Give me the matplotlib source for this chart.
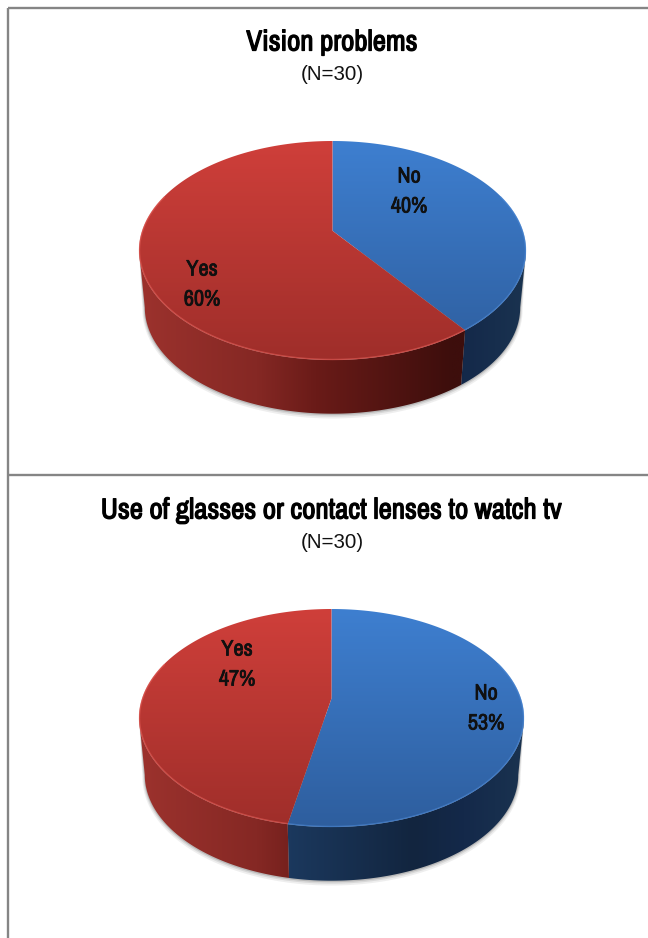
import numpy as np
import matplotlib
matplotlib.use("Agg")
import matplotlib.pyplot as plt
import matplotlib.patheffects as pe
from matplotlib.colors import LinearSegmentedColormap as LSC
from matplotlib.patches import Polygon

titles = ["Vision problems", "Use of glasses or contact lenses to watch tv"]
subtitle = "(N=30)"
categories = ["No", "Yes"]
pie1_values = [40, 60]
pie2_values = [53, 47]

NARROW = ["Archivo Narrow", "Roboto Condensed", "Liberation Sans", "DejaVu Sans"]
W, H = 648, 938
fig = plt.figure(figsize=(W / 100, H / 100), dpi=100, facecolor="white")
ax = fig.add_axes([0, 0, 1, 1])
ax.set_xlim(0, W)
ax.set_ylim(H, 0)
ax.axis("off")

STYLE = {
    "No": dict(top=["#3e7fd0", "#2e5e9e"],
               side=[(0, "#1c3a60"), (0.55, "#12253f"), (0.75, "#14294a"), (1, "#1a3350")]),
    "Yes": dict(top=["#cf3f3a", "#9f2e2a"],
                side=[(0, "#9c322d"), (0.3, "#852824"), (0.45, "#6a1b18"), (0.8, "#3d0e0c"), (1, "#3d0e0c")]),
}
PERSP = 1.22


def warp(theta):
    """Perspective of the disk: screen angle (deg clockwise from top) of a true angle."""
    phi = np.radians(np.asarray(theta, float) - 180)
    return np.degrees(2 * np.arctan(PERSP * np.tan(np.clip(phi / 2, -1.5707, 1.5707)))) + 180


def ell(theta, cx, cy, a, b):
    t = np.radians(theta)
    return np.column_stack([cx + a * np.sin(t), cy - b * np.cos(t)])


def gradient(poly, cmap, x0, x1, y0, y1, horizontal, z):
    g = np.linspace(0, 1, 256)
    arr = g[None, :] if horizontal else g[:, None]
    im = ax.imshow(arr, cmap=cmap, extent=[x0, x1, y1, y0], aspect="auto",
                   interpolation="bilinear", zorder=z, vmin=0, vmax=1)
    poly.set(fc="none", ec="none", transform=ax.transData)
    ax.add_patch(poly)
    im.set_clip_path(poly)


def heavy(width, color):
    return [pe.withStroke(linewidth=width, foreground=color)]


def draw_pie(values, cx, cy, a, b, title, title_y, sub_y, label_pos):
    depth, shrink = 57, 0.97
    a2, b2 = a * shrink, b * shrink
    cum = np.concatenate([[0], np.cumsum(values)]) / np.sum(values) * 360
    edges = warp(cum)
    # soft shadow under the wall
    t = np.linspace(90, 270, 200)
    for k, al in zip([4.0, 2.5, 1.2], [0.10, 0.15, 0.25]):
        pts = ell(t, cx, cy + depth + k * 0.6, a2 + k * 0.6, b2 + k * 0.6)
        ax.add_patch(Polygon(np.vstack([pts, [[cx - a, cy], [cx + a, cy]]]), closed=True,
                             fc="#606060", ec="none", alpha=al, zorder=1))
    for i, cat in enumerate(categories):
        st = STYLE[cat]
        t1, t2 = edges[i], edges[i + 1]
        # wall
        s1, s2 = max(t1, 90), min(t2, 270)
        if s2 > s1:
            t = np.linspace(s1, s2, 200)
            up = ell(t, cx, cy, a, b)
            low = ell(t, cx, cy + depth, a2, b2)
            poly = Polygon(np.vstack([up, low[::-1]]), closed=True)
            x0, x1 = (278, 526) if cat == "No" else (140, 530)
            gradient(poly, LSC.from_list(cat + "s", st["side"]), x0, x1, cy, cy + depth + b, True, 2)
        # top
        t = np.linspace(t1, t2, 300)
        rim = ell(t, cx, cy, a, b)
        apex = [cx, cy - 0.18 * b]
        poly = Polygon(np.vstack([[apex], rim]), closed=True)
        gradient(poly, LSC.from_list(cat + "t", st["top"]), cx - a, cx + a, cy - b, cy + b, False, 3)
        # bevel on the rim
        ts = t[(t > 60) & (t < 300)]
        if len(ts):
            p = ell(ts, cx, cy, a - 0.5, b - 0.5)
            ax.plot(p[:, 0], p[:, 1], color="#e8605a" if cat == "Yes" else "#4d8ad8",
                    lw=1.0, alpha=0.55, zorder=4, solid_capstyle="butt")
        lx, ly = label_pos[i]
        ax.text(lx, ly + 1.5, cat, ha="center", va="center", fontsize=16, family=NARROW,
                color="#101010", zorder=6, path_effects=heavy(0.55, "#101010"))
        ax.text(lx, ly + 31.5, f"{values[i]}%", ha="center", va="center", fontsize=16, family=NARROW,
                color="#101010", zorder=6, path_effects=heavy(0.55, "#101010"))
    ax.text(332, title_y, title, ha="center", va="center", fontsize=20.8, family=NARROW,
            color="black", zorder=6, path_effects=heavy(0.9, "black"))
    ax.text(332, sub_y, subtitle, ha="center", va="center", fontsize=14.8,
            family=["Liberation Sans", "DejaVu Sans"], color="#111111", zorder=6)


# outer table rules
for xs, ys in [([8, W], [8, 8]), ([8, 8], [8, H]), ([8, W], [475, 475])]:
    ax.plot(xs, ys, color="#858585", lw=1.7, zorder=0, solid_capstyle="butt")

draw_pie(pie1_values, 332.5, 250.5, 193.5, 109.5, titles[0], 42, 75, [(409, 175), (202, 268)])
draw_pie(pie2_values, 331.5, 718, 192.5, 109, titles[1], 510, 542, [(486, 692), (237, 648)])

fig.savefig("out.png", dpi=100, facecolor="white")
